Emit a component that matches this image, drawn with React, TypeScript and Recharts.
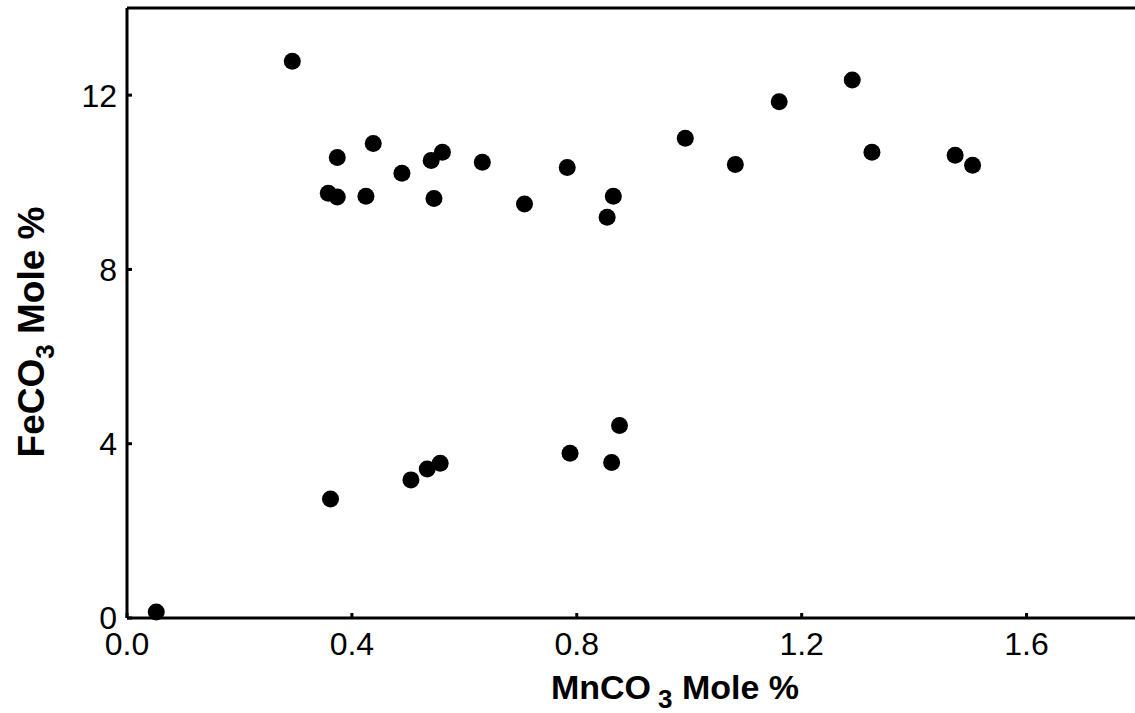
import { Label, Scatter, ScatterChart, XAxis, YAxis } from "recharts";

// MnCO3 / FeCO3 mole % per sample
const mnco3 = [
  0.052, 0.294, 0.358, 0.374, 0.374, 0.438, 0.425, 0.489, 0.541, 0.561,
  0.546, 0.632, 0.707, 0.783, 0.865, 0.854, 0.993, 1.082, 1.16, 1.29,
  1.325, 1.473, 1.504, 0.362, 0.505, 0.534, 0.557, 0.788, 0.862, 0.876,
];
const feco3 = [
  0.14, 12.78, 9.75, 9.66, 10.57, 10.89, 9.68, 10.21, 10.5, 10.69,
  9.63, 10.46, 9.5, 10.34, 9.68, 9.2, 11.01, 10.41, 11.85, 12.35,
  10.69, 10.62, 10.39, 2.73, 3.17, 3.42, 3.55, 3.78, 3.57, 4.42,
];

const xTicks = [0, 0.4, 0.8, 1.2, 1.6];
const yTicks = [0, 4, 8, 12];

const points = mnco3.map((x, i) => ({ x, y: feco3[i] }));

const FONT = "'Liberation Sans', Arial, sans-serif";
const axisLine = { stroke: "#000", strokeWidth: 3 };
const tickLine = { stroke: "#000", strokeWidth: 3 };
const tickText = { fill: "#000", fontSize: 32, fontFamily: FONT };

const Dot = (props: any) => <circle cx={props.cx} cy={props.cy} r={8.5} fill="#000" />;
const NoDot = () => null;

const xTitle = (props: any) => {
  const vb = props.viewBox;
  return (
    <text
      x={vb.x + vb.width / 2 + 42}
      y={vb.y + 81}
      textAnchor="middle"
      fontFamily={FONT}
      fontWeight={700}
      fontSize={34}
      fill="#000"
    >
      MnCO
      <tspan fontSize={26} dx={7} dy={9}>3</tspan>
      <tspan dy={-9}> Mole %</tspan>
    </text>
  );
};

const yTitle = (props: any) => {
  const vb = props.viewBox;
  const cx = 44;
  const cy = vb.y + vb.height / 2 + 19;
  return (
    <text
      x={cx}
      y={cy}
      transform={`rotate(-90 ${cx} ${cy})`}
      textAnchor="middle"
      fontFamily={FONT}
      fontWeight={700}
      fontSize={37}
      fill="#000"
    >
      FeCO
      <tspan fontSize={26} dy={10}>3</tspan>
      <tspan dy={-10}>{"  Mole %"}</tspan>
    </text>
  );
};

export default function App() {
  return (
    <div
      style={{
        position: "fixed",
        top: 0,
        left: 0,
        width: 1135,
        height: 713,
        overflow: "hidden",
        background: "#fff",
      }}
    >
      <ScatterChart
        width={1160}
        height={713}
        margin={{ top: 7, right: 20, bottom: 0, left: 0 }}
      >
        <XAxis
          xAxisId="bottom"
          dataKey="x"
          type="number"
          domain={[0, 1.8]}
          ticks={xTicks}
          tickFormatter={(v: number) => v.toFixed(1)}
          height={95}
          tickSize={-5}
          tickMargin={19}
          axisLine={axisLine}
          tickLine={tickLine}
          tick={tickText}
          interval={0}
        >
          <Label content={xTitle} />
        </XAxis>
        <XAxis
          xAxisId="top"
          dataKey="x"
          orientation="top"
          type="number"
          domain={[0, 1.8]}
          ticks={xTicks}
          height={1}
          tickSize={-5}
          axisLine={axisLine}
          tickLine={tickLine}
          tick={false}
          interval={0}
        />
        <YAxis
          yAxisId="left"
          dataKey="y"
          type="number"
          domain={[0, 14]}
          ticks={yTicks}
          width={127}
          tickSize={-5}
          tickMargin={15}
          axisLine={axisLine}
          tickLine={tickLine}
          tick={tickText}
          interval={0}
        >
          <Label content={yTitle} />
        </YAxis>
        <YAxis
          yAxisId="right"
          dataKey="y"
          orientation="right"
          type="number"
          domain={[0, 14]}
          ticks={yTicks}
          width={1}
          tickSize={-5}
          axisLine={axisLine}
          tickLine={{ stroke: "#999", strokeWidth: 3 }}
          tick={false}
          interval={0}
        />
        <Scatter
          xAxisId="top"
          yAxisId="right"
          data={points}
          shape={NoDot}
          isAnimationActive={false}
        />
        <Scatter
          xAxisId="bottom"
          yAxisId="left"
          data={points}
          shape={Dot}
          isAnimationActive={false}
        />
      </ScatterChart>
    </div>
  );
}
